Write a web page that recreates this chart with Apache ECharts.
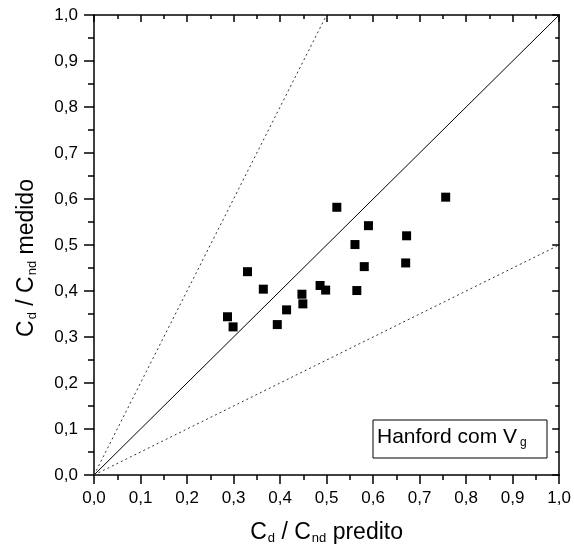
<!DOCTYPE html>
<html><head><meta charset="utf-8">
<script src="https://cdn.jsdelivr.net/npm/echarts@6/dist/echarts.min.js"></script>
<style>html,body{margin:0;padding:0;background:#fff}#c{width:574px;height:552px}</style>
</head><body><div id="c"></div>
<script>
const xPredito = [0.522,0.756,0.590,0.672,0.561,0.581,0.670,0.330,0.364,0.486,0.498,0.565,0.447,0.449,0.414,0.394,0.287,0.299];
const yMedido  = [0.582,0.604,0.542,0.520,0.501,0.453,0.461,0.442,0.404,0.412,0.402,0.401,0.393,0.372,0.359,0.327,0.344,0.322];
const lineIdeal = [[0,0],[1,1]];
const lineUpper = [[0,0],[0.5,1]];
const lineLower = [[0,0],[1,0.5]];
const tickLabels = ['0,0','0,1','0,2','0,3','0,4','0,5','0,6','0,7','0,8','0,9','1,0'];

const FONT = '"Liberation Sans", Arial, sans-serif';
const fmt = v => tickLabels[Math.round(v*10)];
const rich = {
  n:{fontSize:23,fontFamily:FONT,color:'#000'},
  s:{fontSize:13,fontFamily:FONT,color:'#000',verticalAlign:'bottom',padding:[12,0,0,1]}
};
const chart = echarts.init(document.getElementById('c'));
const baseAxis = {
  min:0,max:1,interval:0.1,
  axisLine:{show:true,onZero:false,lineStyle:{color:'#000',width:1.5}},
  splitLine:{show:false}
};
chart.setOption({
  animation:false,
  backgroundColor:'#fff',
  grid:{left:94,right:11.5,top:15,bottom:77,containLabel:false},
  xAxis:[
    Object.assign({},baseAxis,{type:'value',position:'bottom',
      axisTick:{show:true,inside:false,length:9,lineStyle:{color:'#000',width:1.5}},
      minorTick:{show:true,splitNumber:2,length:5,lineStyle:{color:'#000',width:1.5}},
      axisLabel:{formatter:fmt,fontSize:17,fontFamily:FONT,color:'#000',margin:15},
      name:'{n|C}{s|d}{n| / C}{s|nd}{n| predito}',nameLocation:'middle',nameGap:45,
      nameTextStyle:{rich:rich}}),
    Object.assign({},baseAxis,{type:'value',position:'top',
      axisTick:{show:true,inside:true,length:7,lineStyle:{color:'#000',width:1.5}},
      minorTick:{show:true,splitNumber:2,length:4,lineStyle:{color:'#000',width:1.5}},
      axisLabel:{show:false}})
  ],
  yAxis:[
    Object.assign({},baseAxis,{type:'value',position:'left',
      axisTick:{show:true,inside:false,length:10,lineStyle:{color:'#000',width:1.5}},
      minorTick:{show:true,splitNumber:2,length:6,lineStyle:{color:'#000',width:1.5}},
      axisLabel:{formatter:fmt,fontSize:17,fontFamily:FONT,color:'#000',margin:16},
      name:'{n|C}{s|d}{n| / C}{s|nd}{n| medido}',nameLocation:'middle',nameGap:55,nameRotate:90,
      nameTextStyle:{rich:rich,padding:[0,26,0,0]}}),
    Object.assign({},baseAxis,{type:'value',position:'right',
      axisTick:{show:true,inside:true,length:7,lineStyle:{color:'#000',width:1.5}},
      minorTick:{show:true,splitNumber:2,length:4,lineStyle:{color:'#000',width:1.5}},
      axisLabel:{show:false}})
  ],
  series:[
    {type:'line',data:lineIdeal,symbol:'none',lineStyle:{color:'#000',width:1},silent:true},
    {type:'line',data:lineUpper,symbol:'none',lineStyle:{color:'#333',width:1,type:[2,3]},silent:true},
    {type:'line',data:lineLower,symbol:'none',lineStyle:{color:'#333',width:1,type:[2,3]},silent:true},
    {type:'scatter',data:xPredito.map((x,i)=>[x,yMedido[i]]),symbol:'rect',symbolSize:9,itemStyle:{color:'#000',opacity:1}}
  ],
  graphic:[
    {type:'rect',shape:{x:373,y:420,width:174,height:38},style:{fill:'#fff',stroke:'#000',lineWidth:1}},
    {type:'text',x:377,y:426,style:{text:'{n|Hanford com V}{s|g}',rich:{
      n:{fontSize:21,fontFamily:FONT,color:'#000'},
      s:{fontSize:12,fontFamily:FONT,color:'#000',verticalAlign:'bottom',padding:[11,0,0,3]}}}}
  ]
});
</script></body></html>
